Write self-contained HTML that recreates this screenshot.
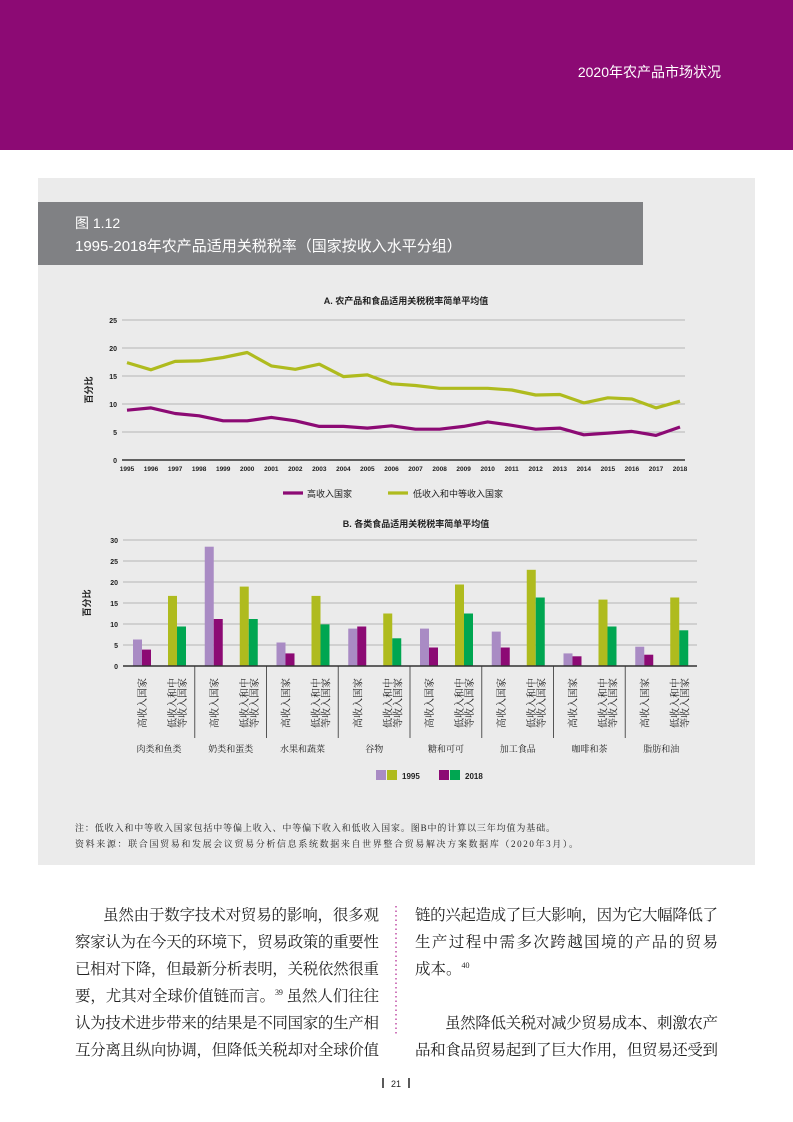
<!DOCTYPE html>
<html><head><meta charset="utf-8"><style>
html,body{margin:0;padding:0;background:#fff}
svg{display:block}
.s{font-family:"Liberation Sans","Noto Sans CJK SC",sans-serif}
.r{font-family:"Liberation Serif","Noto Serif CJK SC",serif}
</style></head><body>
<svg width="793" height="1122" viewBox="0 0 793 1122" xmlns="http://www.w3.org/2000/svg">
<rect x="0" y="0" width="793" height="150" fill="#8C0A74"/>
<text x="721" y="77" class="s" font-size="14" fill="#fff" text-anchor="end">2020年农产品市场状况</text>
<rect x="38" y="178" width="717" height="687" fill="#EBEBEB"/>
<rect x="38" y="202" width="605" height="63" fill="#808184"/>
<text x="75" y="228" class="s" font-size="14" fill="#fff">图 1.12</text>
<text x="75" y="251" class="s" font-size="15" fill="#fff">1995-2018年农产品适用关税税率（国家按收入水平分组）</text>

<!-- Chart A -->
<text x="406" y="304" class="s" font-size="9" font-weight="bold" text-anchor="middle" fill="#222">A. 农产品和食品适用关税税率简单平均值</text>
<g stroke="#B5B5B5" stroke-width="1">
<line x1="122" y1="320" x2="685" y2="320"/><line x1="122" y1="348" x2="685" y2="348"/><line x1="122" y1="376" x2="685" y2="376"/><line x1="122" y1="404" x2="685" y2="404"/><line x1="122" y1="432" x2="685" y2="432"/>
</g>
<line x1="122" y1="460" x2="685" y2="460" stroke="#333" stroke-width="1.5"/>
<g class="s" font-size="7" font-weight="bold" fill="#222" text-anchor="end">
<text x="117" y="323">25</text><text x="117" y="351">20</text><text x="117" y="379">15</text><text x="117" y="407">10</text><text x="117" y="435">5</text><text x="117" y="463">0</text>
</g>
<text transform="translate(92,390) rotate(-90)" class="s" font-size="9" font-weight="bold" text-anchor="middle" fill="#222">百分比</text>
<g class="s" font-size="6.5" font-weight="bold" fill="#222" text-anchor="middle">
<text x="127" y="471">1995</text><text x="151" y="471">1996</text><text x="175.1" y="471">1997</text><text x="199.1" y="471">1998</text><text x="223.2" y="471">1999</text><text x="247.2" y="471">2000</text><text x="271.3" y="471">2001</text><text x="295.3" y="471">2002</text><text x="319.3" y="471">2003</text><text x="343.4" y="471">2004</text><text x="367.4" y="471">2005</text><text x="391.5" y="471">2006</text><text x="415.5" y="471">2007</text><text x="439.6" y="471">2008</text><text x="463.6" y="471">2009</text><text x="487.7" y="471">2010</text><text x="511.7" y="471">2011</text><text x="535.7" y="471">2012</text><text x="559.8" y="471">2013</text><text x="583.8" y="471">2014</text><text x="607.9" y="471">2015</text><text x="631.9" y="471">2016</text><text x="656" y="471">2017</text><text x="680" y="471">2018</text>
</g>
<polyline fill="none" stroke="#AFBB1E" stroke-width="3.2" stroke-linejoin="round" points="127,362.6 151,369.8 175.1,361.4 199.1,360.9 223.2,357.5 247.2,352.5 271.3,365.9 295.3,369.3 319.3,364.2 343.4,376.6 367.4,374.9 391.5,383.8 415.5,385.5 439.6,388.3 463.6,388.3 487.7,388.3 511.7,390 535.7,395 559.8,394.5 583.8,402.9 607.9,397.8 631.9,399 656,407.9 680,401.2"/>
<polyline fill="none" stroke="#8C0A74" stroke-width="3.2" stroke-linejoin="round" points="127,410.2 151,407.9 175.1,413.5 199.1,415.8 223.2,420.8 247.2,420.8 271.3,417.4 295.3,420.8 319.3,426.4 343.4,426.4 367.4,428.1 391.5,425.8 415.5,429.2 439.6,429.2 463.6,426.4 487.7,421.9 511.7,425.3 535.7,429.2 559.8,428.1 583.8,434.8 607.9,433.1 631.9,431.4 656,435.4 680,427"/>
<line x1="283" y1="493" x2="303" y2="493" stroke="#8C0A74" stroke-width="3.2"/>
<text x="307" y="497" class="s" font-size="9" fill="#222">高收入国家</text>
<line x1="388" y1="493" x2="408" y2="493" stroke="#AFBB1E" stroke-width="3.2"/>
<text x="413" y="497" class="s" font-size="9" fill="#222">低收入和中等收入国家</text>

<!-- Chart B -->
<text x="416" y="527" class="s" font-size="9" font-weight="bold" text-anchor="middle" fill="#222">B. 各类食品适用关税税率简单平均值</text>
<g stroke="#B5B5B5" stroke-width="1">
<line x1="123" y1="540" x2="697" y2="540"/><line x1="123" y1="561" x2="697" y2="561"/><line x1="123" y1="582" x2="697" y2="582"/><line x1="123" y1="603" x2="697" y2="603"/><line x1="123" y1="624" x2="697" y2="624"/><line x1="123" y1="645" x2="697" y2="645"/>
</g>
<g class="s" font-size="7" font-weight="bold" fill="#222" text-anchor="end">
<text x="118" y="543">30</text><text x="118" y="564">25</text><text x="118" y="585">20</text><text x="118" y="606">15</text><text x="118" y="627">10</text><text x="118" y="648">5</text><text x="118" y="669">0</text>
</g>
<text transform="translate(90,603) rotate(-90)" class="s" font-size="9" font-weight="bold" text-anchor="middle" fill="#222">百分比</text>

<defs>
<g id="lab" class="r" font-size="10" fill="#222">
<text transform="translate(23,728) rotate(-90)">高收入国家</text>
<text transform="translate(53,728) rotate(-90)">低收入和中</text>
<text transform="translate(63,728) rotate(-90)">等收入国家</text>
</g>
</defs>

<g transform="translate(123,0)"><rect x="10" y="639.5" width="9" height="26.5" fill="#A98BC4"/><rect x="19" y="649.6" width="9" height="16.4" fill="#8C0A74"/><rect x="45" y="595.9" width="9" height="70.1" fill="#AFBB1E"/><rect x="54" y="626.5" width="9" height="39.5" fill="#00A651"/><use href="#lab"/><text x="36" y="752" class="r" font-size="9" text-anchor="middle" fill="#222">肉类和鱼类</text></g>
<g transform="translate(194.75,0)"><rect x="10" y="546.7" width="9" height="119.3" fill="#A98BC4"/><rect x="19" y="619" width="9" height="47" fill="#8C0A74"/><rect x="45" y="586.6" width="9" height="79.4" fill="#AFBB1E"/><rect x="54" y="619" width="9" height="47" fill="#00A651"/><use href="#lab"/><text x="36" y="752" class="r" font-size="9" text-anchor="middle" fill="#222">奶类和蛋类</text><line x1="0" y1="666" x2="0" y2="738" stroke="#555"/></g>
<g transform="translate(266.5,0)"><rect x="10" y="642.5" width="9" height="23.5" fill="#A98BC4"/><rect x="19" y="653.4" width="9" height="12.6" fill="#8C0A74"/><rect x="45" y="595.9" width="9" height="70.1" fill="#AFBB1E"/><rect x="54" y="624.4" width="9" height="41.6" fill="#00A651"/><use href="#lab"/><text x="36" y="752" class="r" font-size="9" text-anchor="middle" fill="#222">水果和蔬菜</text><line x1="0" y1="666" x2="0" y2="738" stroke="#555"/></g>
<g transform="translate(338.25,0)"><rect x="10" y="628.6" width="9" height="37.4" fill="#A98BC4"/><rect x="19" y="626.5" width="9" height="39.5" fill="#8C0A74"/><rect x="45" y="613.5" width="9" height="52.5" fill="#AFBB1E"/><rect x="54" y="638.3" width="9" height="27.7" fill="#00A651"/><use href="#lab"/><text x="36" y="752" class="r" font-size="9" text-anchor="middle" fill="#222">谷物</text><line x1="0" y1="666" x2="0" y2="738" stroke="#555"/></g>
<g transform="translate(410,0)"><rect x="10" y="628.6" width="9" height="37.4" fill="#A98BC4"/><rect x="19" y="647.5" width="9" height="18.5" fill="#8C0A74"/><rect x="45" y="584.5" width="9" height="81.5" fill="#AFBB1E"/><rect x="54" y="613.5" width="9" height="52.5" fill="#00A651"/><use href="#lab"/><text x="36" y="752" class="r" font-size="9" text-anchor="middle" fill="#222">糖和可可</text><line x1="0" y1="666" x2="0" y2="738" stroke="#555"/></g>
<g transform="translate(481.75,0)"><rect x="10" y="631.6" width="9" height="34.4" fill="#A98BC4"/><rect x="19" y="647.5" width="9" height="18.5" fill="#8C0A74"/><rect x="45" y="569.8" width="9" height="96.2" fill="#AFBB1E"/><rect x="54" y="597.5" width="9" height="68.5" fill="#00A651"/><use href="#lab"/><text x="36" y="752" class="r" font-size="9" text-anchor="middle" fill="#222">加工食品</text><line x1="0" y1="666" x2="0" y2="738" stroke="#555"/></g>
<g transform="translate(553.5,0)"><rect x="10" y="653.4" width="9" height="12.6" fill="#A98BC4"/><rect x="19" y="656.3" width="9" height="9.7" fill="#8C0A74"/><rect x="45" y="599.6" width="9" height="66.4" fill="#AFBB1E"/><rect x="54" y="626.5" width="9" height="39.5" fill="#00A651"/><use href="#lab"/><text x="36" y="752" class="r" font-size="9" text-anchor="middle" fill="#222">咖啡和茶</text><line x1="0" y1="666" x2="0" y2="738" stroke="#555"/></g>
<g transform="translate(625.25,0)"><rect x="10" y="646.7" width="9" height="19.3" fill="#A98BC4"/><rect x="19" y="654.7" width="9" height="11.3" fill="#8C0A74"/><rect x="45" y="597.5" width="9" height="68.5" fill="#AFBB1E"/><rect x="54" y="630.3" width="9" height="35.7" fill="#00A651"/><use href="#lab"/><text x="36" y="752" class="r" font-size="9" text-anchor="middle" fill="#222">脂肪和油</text><line x1="0" y1="666" x2="0" y2="738" stroke="#555"/></g>
<line x1="123" y1="666" x2="697" y2="666" stroke="#333" stroke-width="1.5"/>

<rect x="376" y="770" width="10" height="10" fill="#A98BC4"/><rect x="387" y="770" width="10" height="10" fill="#AFBB1E"/>
<text x="402" y="779" class="s" font-size="8" font-weight="bold" fill="#222">1995</text>
<rect x="439" y="770" width="10" height="10" fill="#8C0A74"/><rect x="450" y="770" width="10" height="10" fill="#00A651"/>
<text x="465" y="779" class="s" font-size="8" font-weight="bold" fill="#222">2018</text>

<text x="75" y="831" class="r" font-size="9" fill="#222" textLength="480">注：低收入和中等收入国家包括中等偏上收入、中等偏下收入和低收入国家。图B中的计算以三年均值为基础。</text>
<text x="75" y="847" class="r" font-size="9" fill="#222" textLength="503">资料来源：联合国贸易和发展会议贸易分析信息系统数据来自世界整合贸易解决方案数据库（2020年3月）。</text>

<!-- Body -->
<g class="r" font-size="15.5" fill="#222">
<text x="103" y="920" textLength="276">虽然由于数字技术对贸易的影响，很多观</text>
<text x="75" y="947" textLength="304">察家认为在今天的环境下，贸易政策的重要性</text>
<text x="75" y="974" textLength="304">已相对下降，但最新分析表明，关税依然很重</text>
<text x="75" y="1001" textLength="304">要，尤其对全球价值链而言。<tspan font-size="8" dy="-6">39</tspan><tspan dy="6"> 虽然人们往往</tspan></text>
<text x="75" y="1028" textLength="304">认为技术进步带来的结果是不同国家的生产相</text>
<text x="75" y="1055" textLength="304">互分离且纵向协调，但降低关税却对全球价值</text>
<text x="415" y="920" textLength="303">链的兴起造成了巨大影响，因为它大幅降低了</text>
<text x="415" y="947" textLength="303">生产过程中需多次跨越国境的产品的贸易</text>
<text x="415" y="974">成本。<tspan font-size="8" dy="-6">40</tspan></text>
<text x="445" y="1028" textLength="273">虽然降低关税对减少贸易成本、刺激农产</text>
<text x="415" y="1055" textLength="303">品和食品贸易起到了巨大作用，但贸易还受到</text>
</g>
<line x1="396" y1="906" x2="396" y2="1036" stroke="#B0228F" stroke-width="1.2" stroke-dasharray="1.5,3"/>
<line x1="383" y1="1078" x2="383" y2="1088" stroke="#222" stroke-width="1.5"/>
<text x="396" y="1087" class="s" font-size="9" text-anchor="middle" fill="#222">21</text>
<line x1="409" y1="1078" x2="409" y2="1088" stroke="#222" stroke-width="1.5"/>
</svg>
</body></html>
